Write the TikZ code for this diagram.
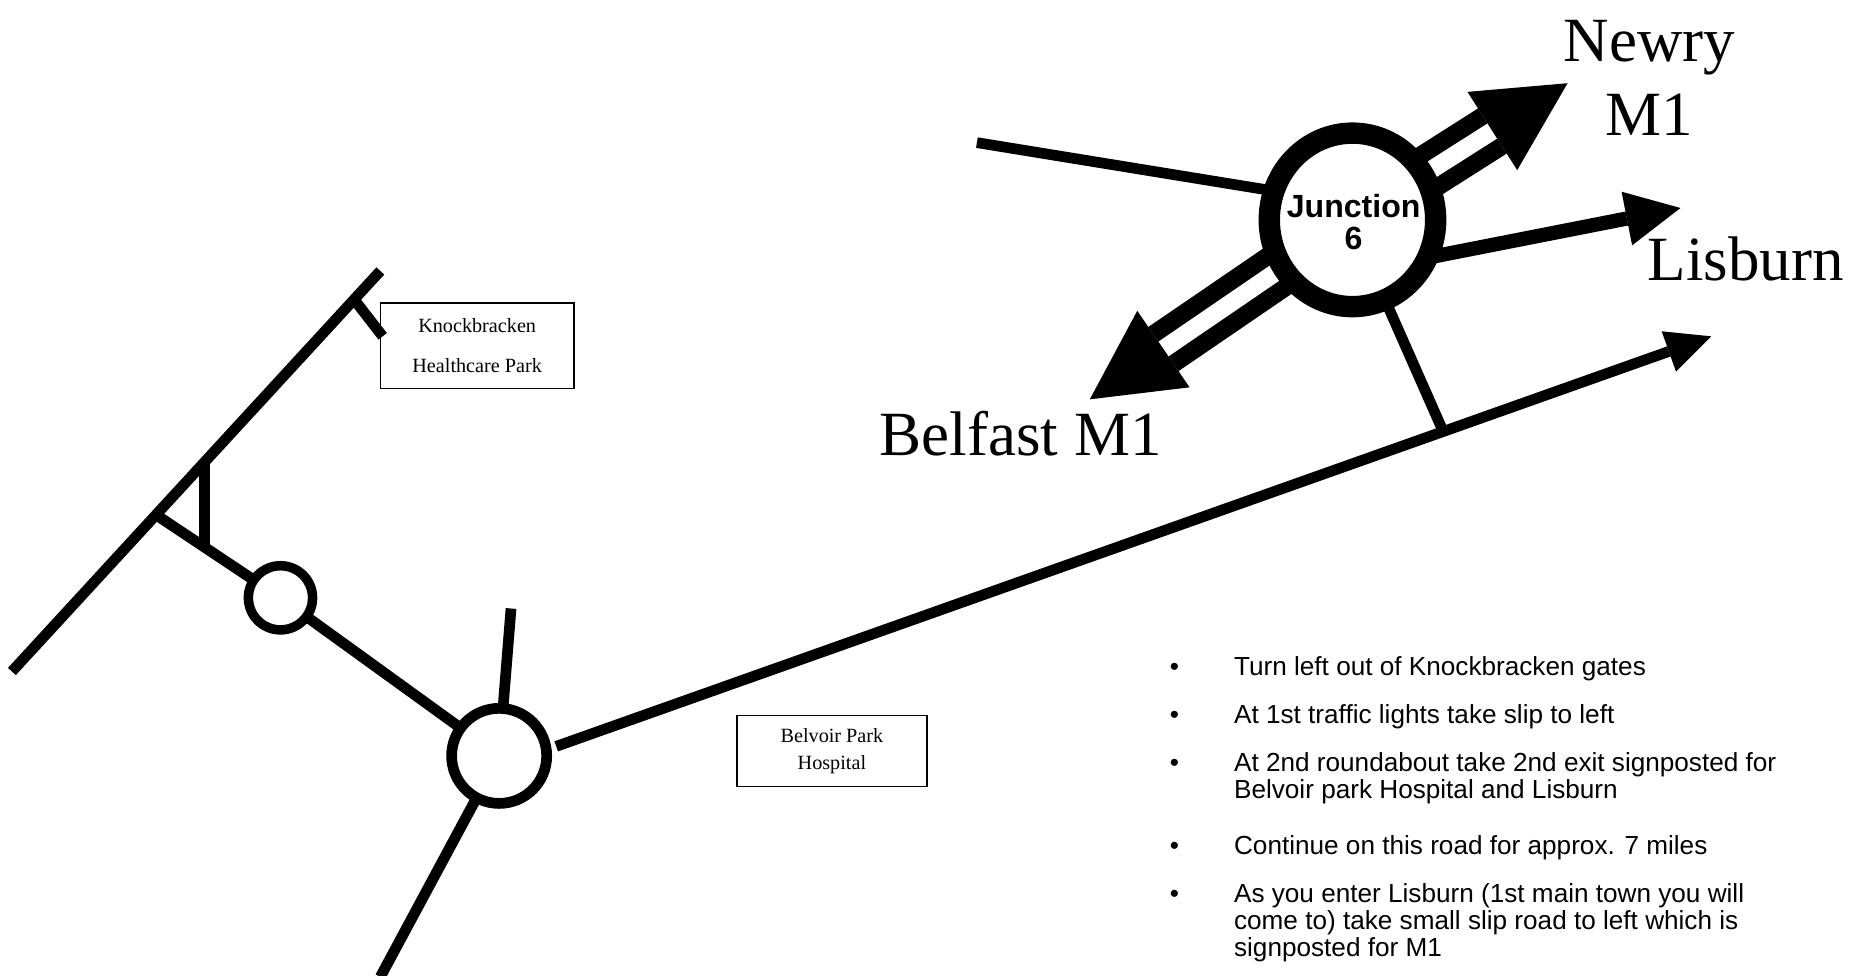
\documentclass[tikz,border=0pt]{standalone}
\usepackage{fontspec}
\setmainfont{Liberation Serif}
\newfontfamily\arialf{Liberation Sans}
\usetikzlibrary{calc,shapes.geometric}
\begin{document}
\begin{tikzpicture}[x=0.5pt,y=-0.5pt,
  road/.style={line width=4.5pt},
  ring/.style={draw, fill=white, circle, inner sep=0pt},
  biglabel/.style={font=\fontsize{26.5}{31}\selectfont, inner sep=0pt},
  signbox/.style={draw, line width=0.6pt, inner sep=0pt, align=center},
  bul/.style={anchor=base west, inner sep=0pt, font=\arialf\fontsize{11}{11.5}\selectfont},
  head/.style={fill=black}]

\path[use as bounding box, fill=white] (0,0) rectangle (1560,821);

% ---------- coordinates ----------
\coordinate (mA) at (10,565);
\coordinate (mB) at (320,228);
\coordinate (k1) at (298,252);
\coordinate (k2) at (322,283);
\coordinate (s1) at (131,433);
\coordinate (s2) at (172,389);
\coordinate (s3) at (172,461);
\coordinate (c1) at (236,503);
\coordinate (c2) at (420,636);
\coordinate (n1) at (430,512);
\coordinate (n2) at (320,822);
\coordinate (r0) at (468,628);
\coordinate (rt) at (1440,283);
\coordinate (c3) at (1138,185);
\coordinate (w0) at (822,120);
\coordinate (w1) at (1080,162);
\coordinate (d0) at (1160,240);
\coordinate (d1) at (1213,360);
\coordinate (l0) at (1200,217);
\coordinate (lt) at (1414,175);
\coordinate (nwt) at (1319,70);
\coordinate (bft) at (917,336);

% ---------- left road network ----------
\draw[road] (mA) -- (mB);
\draw[road] (k1) -- (k2);
\draw[road] (s2) -- (s3);
\draw[road] (s1) -- (c1) -- (c2);
\draw[road] (n1) -- (c2) -- (n2);
\node[ring, line width=4pt, minimum size=27pt] (rb1) at (c1) {};
\node[ring, line width=4.5pt, minimum size=40pt] (rb2) at (c2) {};

% ---------- long road to Lisburn ----------
\coordinate (rb) at ($(rt)!19pt!(r0)$);
\draw[road] (r0) -- (rb);
\fill[head] ($(rb)!9pt!90:(rt)$) -- (rt) -- ($(rb)!9pt!-90:(rt)$) -- cycle;

% ---------- junction 6 ----------
\draw[road] (w0) -- (w1);
\draw[road] (d0) -- (d1);
% Lisburn arrow
\coordinate (lb) at ($(lt)!23pt!(l0)$);
\draw[line width=6pt] (l0) -- (lb);
\fill[head] ($(lb)!11.5pt!90:(lt)$) -- (lt) -- ($(lb)!11.5pt!-90:(lt)$) -- cycle;
% Newry double arrow
\coordinate (nwb) at ($(nwt)!37.5pt!(c3)$);
\draw[line width=22.5pt] (c3) -- (nwb);
\draw[white, line width=7.5pt] (c3) -- (nwb);
\fill[head] ($(nwb)!19.5pt!90:(nwt)$) -- (nwt) -- ($(nwb)!19.5pt!-90:(nwt)$) -- cycle;
% Belfast double arrow
\coordinate (bfb) at ($(bft)!37.5pt!(c3)$);
\draw[line width=22.5pt] (c3) -- (bfb);
\draw[white, line width=7.5pt] (c3) -- (bfb);
\fill[head] ($(bfb)!19.5pt!90:(bft)$) -- (bft) -- ($(bfb)!19.5pt!-90:(bft)$) -- cycle;

\node[draw, fill=white, ellipse, line width=9pt, minimum width=70pt, minimum height=73pt, inner sep=0pt] (j6) at (c3) {};
\node[inner sep=0pt, align=center, font=\arialf\bfseries\fontsize{13.5}{13.5}\selectfont] (j6t) at (1139,187) {Junction\\6};

% ---------- labels ----------
\node[biglabel, align=center, anchor=base] (newry) at (1388,114) {Newry\\M1};
\node[biglabel, anchor=base west] (lisburn) at (1386,236) {Lisburn};
\node[biglabel, anchor=base west] (belfast) at (740,383) {Belfast M1};

\node[signbox, minimum width=81.5pt, minimum height=36pt,
      font=\fontsize{8.5}{17}\selectfont] (kb) at (401.5,291) {Knockbracken\\Healthcare Park};
\node[signbox, minimum width=80pt, minimum height=30pt,
      font=\fontsize{8.5}{11}\selectfont] (bp) at (700,632) {Belvoir Park\\Hospital};

% ---------- directions ----------
\foreach \y/\t in {568/Turn left out of Knockbracken gates,
                   609/At 1st traffic lights take slip to left,
                   649/At 2nd roundabout take 2nd exit signposted for,
                   719/Continue on this road for approx. 7 miles,
                   759/As you enter Lisburn (1st main town you will}
  {\node[bul] at (984,\y) {•}; \node[bul] at (1038,\y) {\t};}
\node[bul] (t3b) at (1038,672) {Belvoir park Hospital and Lisburn};
\node[bul] (t5b) at (1038,782) {come to) take small slip road to left which is};
\node[bul] (t5c) at (1038,805) {signposted for M1};
\end{tikzpicture}
\end{document}
